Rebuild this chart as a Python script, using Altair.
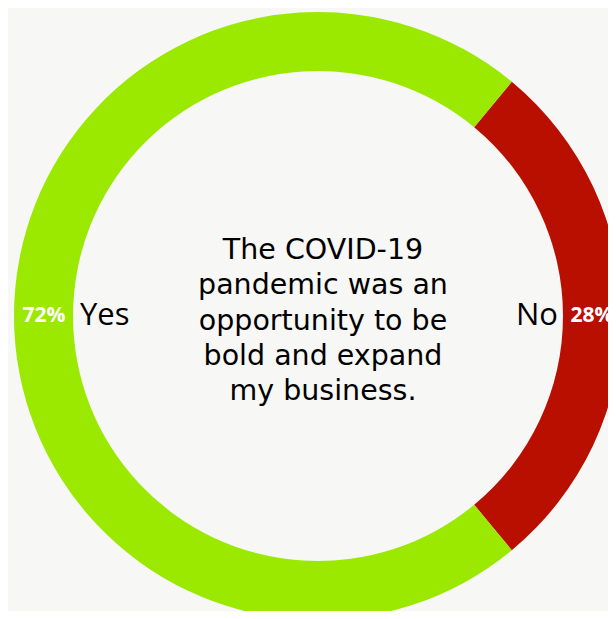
import altair as alt
import pandas as pd
import math

answers = ["No", "Yes"]
shares = [28, 72]
colors = ["#b90f00", "#9be800"]
center_lines = ["The COVID-19", "pandemic was an", "opportunity to be", "bold and expand", "my business."]

df = pd.DataFrame({"answer": answers, "share": shares, "order": [0, 1],
                   "pct": [f"{s}%" for s in shares]})

cx, cy = 310, 308
start = math.radians(39.6)
theta_scale = alt.Scale(range=[start, start + 2 * math.pi])
color_scale = alt.Scale(domain=answers, range=colors)

base = alt.Chart(df).encode(
    theta=alt.Theta("share:Q", stack=True, scale=theta_scale),
    order=alt.Order("order:Q"),
    x=alt.value(cx), y=alt.value(cy),
)

ring = base.mark_arc(outerRadius=304, innerRadius=245).encode(
    color=alt.Color("answer:N", scale=color_scale, legend=None)
)

pct = base.mark_text(radius=274, font="Open Sans", fontWeight="bold", fontSize=21,
                     color="white", align="center", baseline="middle").encode(text="pct:N")

yes_lbl = base.mark_text(radius=238, font="Open Sans", fontSize=31, color="black",
                         align="left", baseline="middle").transform_calculate(
    lbl="datum.answer == 'Yes' ? datum.answer : ''").encode(text="lbl:N")
no_lbl = base.mark_text(radius=240, font="Open Sans", fontSize=31, color="black",
                        align="right", baseline="middle").transform_calculate(
    lbl="datum.answer == 'No' ? datum.answer : ''").encode(text="lbl:N")

ctext = alt.Chart(pd.DataFrame({"t": [center_lines]})).mark_text(
    font="DejaVu Sans", fontSize=28.5, color="#000000", align="center", baseline="middle",
    lineHeight=35.3
).encode(text="t", x=alt.value(cx + 5), y=alt.value(242))

chart = alt.layer(ring, pct, yes_lbl, no_lbl, ctext).properties(
    width=600, height=603, autosize="none", padding=0, background="#f7f7f5"
).configure_view(stroke=None)

chart.save("out.html", embed_options={"renderer": "svg", "actions": False})
